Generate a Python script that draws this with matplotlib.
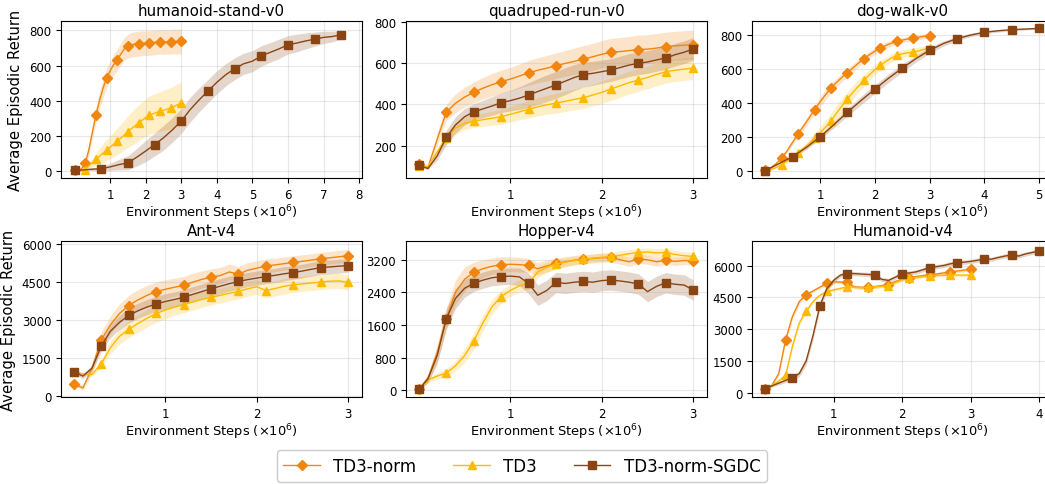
import numpy as np
import matplotlib
matplotlib.use("Agg")
import matplotlib.pyplot as plt

# cores das curvas
C_NORM = '#F0860F'
C_TD3 = '#FFBA00'
C_SGDC = '#8B4513'

# passos (x10^6)
x3 = [round(0.1 * i, 1) for i in range(31)]          # 0 .. 3.0
x4 = [round(0.1 * i, 1) for i in range(41)]          # 0 .. 4.0
x5q = [0.25 * i for i in range(21)]                  # 0 .. 5.0
x75q = [0.25 * i for i in range(31)]                 # 0 .. 7.5

# ---------------- humanoid-stand-v0
hs_norm = [5, 5, 15, 45, 120, 220, 318, 400, 470, 530, 570, 605, 632, 665, 695, 710,
           718, 722, 725, 727, 726, 728, 730, 733, 735, 733, 735, 735, 737, 736, 738]
hs_norm_sd = [3, 3, 10, 20, 30, 40, 45, 50, 55, 55, 55, 58, 60, 62, 65, 68,
              70, 70, 70, 70, 70, 70, 70, 70, 70, 70, 70, 70, 70, 70, 70]
hs_td3 = [5, 5, 5, 8, 30, 50, 68, 85, 103, 120, 137, 153, 170, 188, 206, 225,
          242, 258, 275, 290, 305, 318, 326, 334, 340, 346, 352, 358, 368, 378, 388]
hs_td3_sd = [2, 2, 3, 5, 15, 25, 35, 45, 55, 60, 65, 70, 75, 80, 85, 90,
             95, 100, 100, 105, 105, 110, 110, 110, 112, 115, 115, 118, 118, 120, 120]
hs_sgdc = [5, 8, 12, 15, 25, 38, 48, 80, 115, 152, 190, 235, 285, 350, 405, 455,
           505, 548, 582, 610, 625, 655, 675, 695, 718, 728, 740, 750, 760, 765, 775]
hs_sgdc_sd = [3, 5, 8, 10, 20, 30, 40, 50, 60, 65, 70, 70, 70, 70, 68, 66,
              65, 63, 62, 60, 60, 58, 56, 55, 52, 50, 45, 40, 35, 30, 25]

# ---------------- quadruped-run-v0
qr_norm = [110, 95, 230, 361, 405, 435, 458, 478, 495, 510, 522, 537, 552, 565, 575, 587,
           598, 608, 619, 630, 642, 652, 655, 660, 665, 667, 672, 679, 683, 686, 689]
qr_norm_sd = [10, 10, 30, 40, 45, 48, 50, 52, 55, 55, 57, 58, 60, 60, 62, 62,
              63, 64, 65, 65, 66, 67, 68, 68, 70, 70, 70, 70, 70, 70, 70]
qr_td3 = [100, 100, 170, 235, 285, 308, 319, 326, 333, 340, 352, 364, 376, 388, 398, 406,
          415, 424, 432, 445, 458, 474, 490, 505, 518, 530, 545, 558, 565, 570, 576]
qr_td3_sd = [5, 5, 15, 25, 30, 30, 30, 32, 34, 36, 38, 40, 42, 44, 46, 48,
             50, 50, 52, 52, 54, 55, 55, 55, 55, 55, 55, 55, 55, 55, 55]
qr_sgdc = [105, 90, 150, 240, 300, 340, 364, 378, 392, 408, 418, 430, 445, 462, 478, 494,
           512, 530, 544, 550, 558, 566, 578, 590, 598, 605, 615, 624, 640, 652, 668]
qr_sgdc_sd = [5, 5, 20, 35, 40, 40, 40, 42, 45, 48, 50, 55, 60, 62, 65, 65,
              65, 63, 60, 58, 56, 55, 55, 55, 55, 55, 55, 55, 55, 55, 55]

# ---------------- dog-walk-v0
dw_norm = [8, 20, 45, 78, 120, 170, 219, 265, 312, 360, 405, 448, 487, 520, 550, 577,
           605, 633, 659, 682, 703, 722, 737, 750, 761, 768, 775, 780, 785, 790, 794]
dw_norm_sd = [3, 5, 8, 10, 12, 15, 18, 20, 25, 28, 30, 30, 28, 26, 25, 25,
              24, 22, 20, 20, 20, 18, 18, 18, 16, 15, 15, 15, 15, 15, 15]
dw_td3 = [4, 10, 22, 39, 60, 83, 108, 135, 163, 194, 225, 258, 295, 340, 383, 424,
          462, 498, 532, 565, 595, 620, 643, 663, 679, 688, 694, 698, 705, 714, 722]
dw_td3_sd = [2, 3, 5, 7, 10, 12, 15, 18, 22, 28, 35, 40, 45, 45, 45, 42,
             40, 38, 35, 32, 30, 28, 25, 25, 22, 22, 22, 22, 22, 22, 22]
dw_sgdc = [4, 45, 86, 140, 201, 272, 346, 415, 481, 545, 604, 660, 708, 748, 777, 798,
           814, 823, 829, 833, 837]
dw_sgdc_sd = [3, 5, 8, 10, 12, 18, 22, 25, 25, 25, 22, 20, 18, 15, 12, 10,
              8, 8, 6, 6, 6]

# ---------------- Ant-v4
ant_norm = [455, 320, 1100, 2208, 2800, 3250, 3560, 3780, 3960, 4105, 4200, 4280, 4352, 4480, 4590, 4676,
            4740, 4880, 4793, 4950, 5030, 5118, 5160, 5210, 5261, 5300, 5350, 5404, 5440, 5480, 5521]
ant_norm_sd = [50, 100, 200, 300, 350, 380, 400, 400, 400, 380, 370, 360, 350, 350, 340, 330,
               320, 310, 300, 300, 290, 280, 270, 260, 260, 260, 250, 250, 250, 250, 250]
ant_td3 = [961, 870, 850, 1260, 1900, 2350, 2624, 2850, 3060, 3248, 3380, 3500, 3598, 3700, 3800, 3884,
           3960, 4040, 4118, 4220, 4300, 4150, 4230, 4320, 4378, 4410, 4450, 4482, 4520, 4530, 4469]
ant_td3_sd = [50, 60, 80, 150, 250, 300, 330, 350, 350, 350, 340, 330, 320, 320, 310, 300,
              300, 300, 300, 300, 300, 300, 300, 300, 300, 300, 300, 300, 300, 300, 300]
ant_sgdc = [961, 780, 1100, 1961, 2550, 2900, 3170, 3350, 3500, 3624, 3720, 3800, 3884, 4000, 4110, 4222,
            4320, 4420, 4508, 4580, 4640, 4702, 4750, 4810, 4858, 4920, 4990, 5053, 5080, 5110, 5131]
ant_sgdc_sd = [100, 100, 120, 200, 250, 280, 300, 300, 300, 300, 300, 300, 300, 300, 300, 300,
               300, 300, 290, 280, 280, 280, 280, 280, 270, 270, 270, 270, 270, 270, 270]

# ---------------- Hopper-v4
hop_norm = [24, 300, 900, 1750, 2400, 2720, 2890, 2980, 3040, 3078, 3090, 3080, 3061, 2980, 3050, 3110,
            3150, 3190, 3216, 3230, 3250, 3257, 3200, 3150, 3224, 3200, 3150, 3192, 3160, 3180, 3175]
hop_norm_sd = [10, 100, 200, 250, 300, 300, 250, 220, 200, 200, 180, 180, 170, 150, 150, 130,
               120, 120, 110, 110, 110, 110, 110, 110, 110, 110, 110, 100, 100, 100, 100]
hop_td3 = [24, 250, 350, 423, 600, 850, 1205, 1650, 2050, 2296, 2450, 2560, 2622, 2900, 3020, 3094,
           3140, 3180, 3216, 3240, 3260, 3281, 3310, 3350, 3379, 3390, 3370, 3379, 3330, 3300, 3281]
hop_td3_sd = [10, 50, 80, 100, 130, 170, 200, 200, 180, 160, 150, 150, 150, 140, 130, 120,
              110, 100, 100, 100, 100, 100, 100, 100, 100, 100, 100, 100, 100, 100, 100]
hop_sgdc = [24, 280, 850, 1750, 2250, 2500, 2622, 2700, 2760, 2785, 2800, 2780, 2622, 2330, 2450, 2646,
            2620, 2650, 2670, 2650, 2690, 2703, 2680, 2650, 2605, 2420, 2550, 2638, 2600, 2580, 2459]
hop_sgdc_sd = [10, 100, 200, 250, 250, 220, 200, 200, 200, 200, 200, 220, 250, 250, 250, 250,
               250, 250, 250, 250, 250, 250, 250, 250, 250, 250, 250, 250, 250, 250, 250]

# ---------------- Humanoid-v4
hum_norm = [157, 350, 900, 2491, 3600, 4300, 4622, 4800, 4980, 5155, 5230, 5220, 5202, 5000, 4970, 4967,
            5000, 5050, 5092, 5250, 5350, 5437, 5480, 5520, 5562, 5600, 5650, 5703, 5740, 5780, 5829]
hum_norm_sd = [30, 60, 100, 150, 150, 120, 100, 80, 80, 80, 80, 80, 80, 80, 80, 80,
               80, 80, 80, 80, 80, 80, 80, 80, 80, 80, 80, 80, 80, 80, 80]
hum_td3 = [157, 350, 550, 815, 2200, 3300, 3838, 4300, 4600, 4779, 4850, 4920, 4998, 4980, 4950, 4967,
           5000, 5020, 5045, 5200, 5330, 5405, 5440, 5480, 5515, 5530, 5540, 5547, 5550, 5550, 5547]
hum_td3_sd = [30, 60, 80, 100, 150, 150, 120, 100, 80, 80, 80, 80, 80, 80, 80, 80,
              80, 80, 80, 80, 80, 80, 80, 80, 80, 80, 80, 80, 80, 80, 80]
hum_sgdc = [188, 320, 450, 580, 705, 900, 1500, 2700, 4105, 4900, 5300, 5550, 5625, 5620, 5600, 5580,
            5562, 5350, 5300, 5450, 5625, 5650, 5700, 5800, 5907, 5950, 6000, 6080, 6142, 6160, 6200,
            6250, 6315, 6300, 6380, 6450, 6503, 6450, 6550, 6620, 6691]
hum_sgdc_sd = [50, 60, 80, 100, 120, 150, 200, 200, 200, 150, 120, 100, 100, 100, 100, 100,
               100, 100, 100, 100, 100, 100, 100, 100, 100, 100, 100, 100, 100, 100, 100,
               100, 100, 100, 100, 100, 100, 100, 100, 100, 100]

LABELS = ['TD3-norm', 'TD3', 'TD3-norm-SGDC']
XLABEL = r'Environment Steps ($\times10^6$)'


def curva(ax, x, y, sd, cor, marcador, cada, label):
    x = np.array(x)
    y = np.array(y, dtype=float)
    sd = np.array(sd, dtype=float)
    ax.fill_between(x, y - sd, y + sd, color=cor, alpha=0.22, linewidth=0)
    ax.plot(x, y, color=cor, lw=1.0, marker=marcador, markevery=cada,
            markersize=5.5, label=label)


def painel(ax, titulo, series, xlim, ylim, xticks, yticks):
    for x, y, sd, cor, mk, cada, lab in series:
        curva(ax, x, y, sd, cor, mk, cada, lab)
    ax.set_title(titulo, fontsize=10.8, pad=4)
    ax.set_xlim(*xlim)
    ax.set_ylim(*ylim)
    ax.set_xticks(xticks)
    ax.set_yticks(yticks)
    ax.tick_params(labelsize=8.5)
    ax.set_xlabel(XLABEL, fontsize=9.4, labelpad=1)
    ax.grid(alpha=0.3)


fig = plt.figure(figsize=(10.45, 4.85), dpi=100)
W, H = 1045, 485
larg = 301 / W
esq = [61 / W, 406 / W, 752 / W]
topo = [(H - 179) / H, 157 / H]
base = [(H - 398) / H, 156 / H]

ax1 = fig.add_axes([esq[0], topo[0], larg, topo[1]])
ax2 = fig.add_axes([esq[1], topo[0], larg, topo[1]])
ax3 = fig.add_axes([esq[2], topo[0], larg, topo[1]])
ax4 = fig.add_axes([esq[0], base[0], larg, base[1]])
ax5 = fig.add_axes([esq[1], base[0], larg, base[1]])
ax6 = fig.add_axes([esq[2], base[0], larg, base[1]])

painel(ax1, 'humanoid-stand-v0', [
    (x3, hs_norm, hs_norm_sd, C_NORM, 'D', 3, LABELS[0]),
    (x3, hs_td3, hs_td3_sd, C_TD3, '^', 3, LABELS[1]),
    (x75q, hs_sgdc, hs_sgdc_sd, C_SGDC, 's', 3, LABELS[2]),
], (-0.38, 8.08), (-38, 853), range(1, 9), [0, 200, 400, 600, 800])

painel(ax2, 'quadruped-run-v0', [
    (x3, qr_norm, qr_norm_sd, C_NORM, 'D', 3, LABELS[0]),
    (x3, qr_td3, qr_td3_sd, C_TD3, '^', 3, LABELS[1]),
    (x3, qr_sgdc, qr_sgdc_sd, C_SGDC, 's', 3, LABELS[2]),
], (-0.14, 3.15), (44, 803), [1, 2, 3], [200, 400, 600, 800])

painel(ax3, 'dog-walk-v0', [
    (x3, dw_norm, dw_norm_sd, C_NORM, 'D', 3, LABELS[0]),
    (x3, dw_td3, dw_td3_sd, C_TD3, '^', 3, LABELS[1]),
    (x5q, dw_sgdc, dw_sgdc_sd, C_SGDC, 's', 2, LABELS[2]),
], (-0.24, 5.25), (-39, 880), [1, 2, 3, 4, 5], [0, 200, 400, 600, 800])

painel(ax4, 'Ant-v4', [
    (x3, ant_norm, ant_norm_sd, C_NORM, 'D', 3, LABELS[0]),
    (x3, ant_td3, ant_td3_sd, C_TD3, '^', 3, LABELS[1]),
    (x3, ant_sgdc, ant_sgdc_sd, C_SGDC, 's', 3, LABELS[2]),
], (-0.14, 3.15), (-40, 6100), [1, 2, 3], [0, 1500, 3000, 4500, 6000])

painel(ax5, 'Hopper-v4', [
    (x3, hop_norm, hop_norm_sd, C_NORM, 'D', 3, LABELS[0]),
    (x3, hop_td3, hop_td3_sd, C_TD3, '^', 3, LABELS[1]),
    (x3, hop_sgdc, hop_sgdc_sd, C_SGDC, 's', 3, LABELS[2]),
], (-0.14, 3.15), (-163, 3660), [1, 2, 3], [0, 800, 1600, 2400, 3200])

painel(ax6, 'Humanoid-v4', [
    (x3, hum_norm, hum_norm_sd, C_NORM, 'D', 3, LABELS[0]),
    (x3, hum_td3, hum_td3_sd, C_TD3, '^', 3, LABELS[1]),
    (x4, hum_sgdc, hum_sgdc_sd, C_SGDC, 's', 4, LABELS[2]),
], (-0.19, 4.2), (-204, 7160), [1, 2, 3, 4], [0, 1500, 3000, 4500, 6000])

ax1.set_ylabel('Average Episodic Return', fontsize=10.6)
ax4.set_ylabel('Average Episodic Return', fontsize=10.6)

handles, labels = ax1.get_legend_handles_labels()
fig.legend(handles, labels, loc='center', bbox_to_anchor=(0.4995, 0.037), ncol=3,
           fontsize=12, handlelength=2.2, columnspacing=2.2, framealpha=1)

fig.savefig('out.png', dpi=100)
plt.close(fig)
